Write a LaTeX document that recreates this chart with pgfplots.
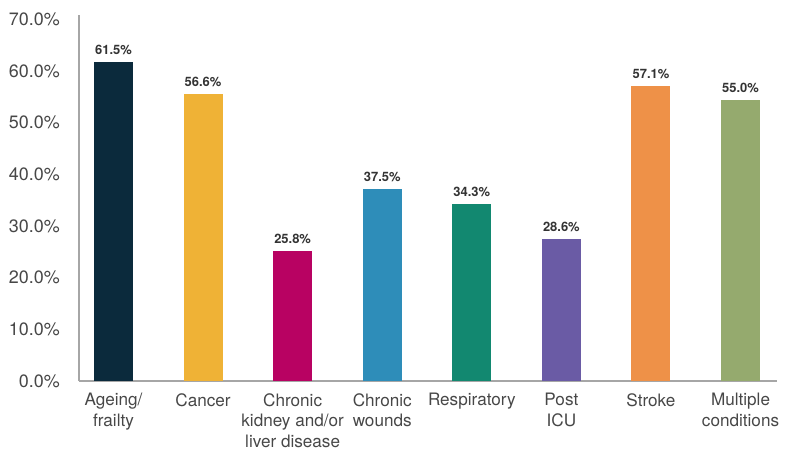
\documentclass[border=0pt]{standalone}
\usepackage{pgfplots}
\pgfplotsset{compat=1.18}
\usepackage{fontspec}
\setmainfont{TeX Gyre Heros}
\definecolor{c1}{HTML}{0B2A3C}
\definecolor{c2}{HTML}{EFB236}
\definecolor{c3}{HTML}{B80262}
\definecolor{c4}{HTML}{2E8DB9}
\definecolor{c5}{HTML}{128870}
\definecolor{c6}{HTML}{6A5BA5}
\definecolor{c7}{HTML}{EE9148}
\definecolor{c8}{HTML}{95AA6E}
\definecolor{txt}{HTML}{333333}
\definecolor{axl}{HTML}{A6A6A6}
\begin{document}
\begin{tikzpicture}
\useasboundingbox (-79bp,-71bp) rectangle (706bp,381bp);
\begin{axis}[
  at={(0,0)}, anchor=south west,
  scale only axis, width=698bp, height=366bp,
  xmin=-0.385, xmax=7.407, ymin=0, ymax=70.87,
  clip=false,
  axis x line*=bottom, axis y line*=left,
  axis line style={draw=axl, line width=1.2bp, -},
  major tick length=0pt,
  ytick={0,10,...,70},
  yticklabel={\pgfmathprintnumber[fixed,fixed zerofill,precision=1]{\tick}\%},
  /pgf/number format/assume math mode=true,
  yticklabel style={font=\fontsize{18}{22}\selectfont, text=txt!90, anchor=east, inner sep=0pt, xshift=-19bp},
  xtick={0,...,7},
  xticklabels={{Ageing/\\frailty},{Cancer},{Chronic\\kidney and/or\\liver disease},{Chronic\\wounds},{Respiratory},{Post\\ICU},{Stroke},{Multiple\\conditions}},
  xticklabel style={font=\fontsize{17.2}{21}\selectfont, text=txt!90, align=center, anchor=north, inner sep=0pt, yshift=-12bp},
  every axis plot/.append style={ybar, bar width=39bp, bar shift=0pt, draw=none,
    nodes near coords, point meta=explicit symbolic},
  nodes near coords style={font=\fontsize{13}{15}\selectfont\bfseries, text=txt, anchor=south, inner sep=0pt, yshift=7bp},
]
\addplot[fill=c1] coordinates {(0,61.7) [61.5\%]};
\addplot[fill=c2] coordinates {(1,55.5) [56.6\%]};
\addplot[fill=c3] coordinates {(2,25.1) [25.8\%]};
\addplot[fill=c4] coordinates {(3,37.1) [37.5\%]};
\addplot[fill=c5] coordinates {(4,34.2) [34.3\%]};
\addplot[fill=c6] coordinates {(5,27.5) [28.6\%]};
\addplot[fill=c7] coordinates {(6,57.1) [57.1\%]};
\addplot[fill=c8] coordinates {(7,54.5) [55.0\%]};
\end{axis}
\end{tikzpicture}
\end{document}
